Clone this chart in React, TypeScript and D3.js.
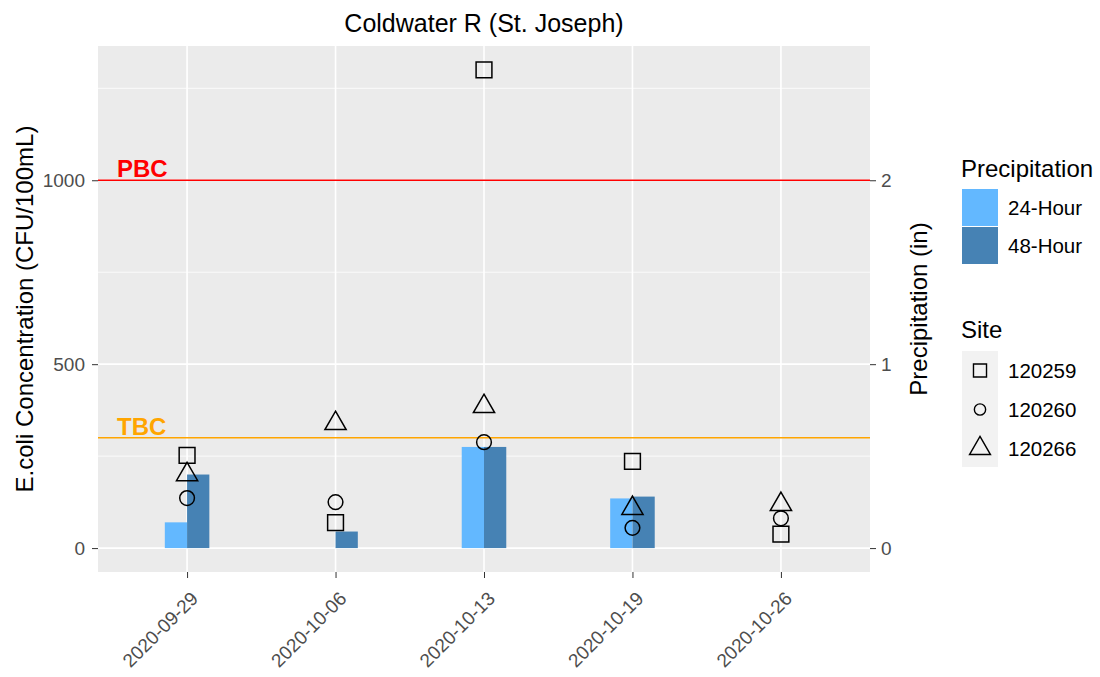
import { useRef, useEffect } from 'react';
import * as d3 from 'd3';

const dates = ['2020-09-29', '2020-10-06', '2020-10-13', '2020-10-19', '2020-10-26'];
const precip24 = [0.14, 0, 0.55, 0.27, 0];
const precip48 = [0.4, 0.09, 0.55, 0.28, 0];
const sites = ['120259', '120260', '120266'];
const site120259 = [252, 69, 1300, 236, 38];
const site120260 = [136, 125, 288, 55, 81];
const site120266 = [200, 339, 385, 108, 119];
const leftTicks = [0, 500, 1000];
const rightTicks = [0, 1, 2];
const thresholds = [
    { label: 'PBC', value: 1000, color: '#ff0000' },
    { label: 'TBC', value: 300, color: '#ffa500' },
];

export default function App() {
    const svgRef = useRef<SVGSVGElement>(null);

    useEffect(() => {
        if (!svgRef.current) return;
        const width = 1100;
        const height = 677;
        const panel = { left: 98, right: 870, top: 46, bottom: 572 };
        const font = '"Liberation Sans", Arial, sans-serif';
        const textGray = '#4d4d4d';

        const svg = d3.select(svgRef.current);
        svg.selectAll('*').remove();
        svg.attr('width', width).attr('height', height)
            .style('font-family', font);

        svg.append('rect').attr('width', width).attr('height', height).attr('fill', 'white');

        const x = d3.scalePoint<string>().domain(dates).range([panel.left, panel.right]).padding(0.6);
        const step = x.step();
        const barW = step * 0.15;
        const y = d3.scaleLinear().domain([-65, 1365]).range([panel.bottom, panel.top]);
        const yR = d3.scaleLinear().domain([-0.13, 2.73]).range([panel.bottom, panel.top]);

        // panel
        svg.append('rect')
            .attr('x', panel.left).attr('y', panel.top)
            .attr('width', panel.right - panel.left).attr('height', panel.bottom - panel.top)
            .attr('fill', '#ebebeb');

        const grid = svg.append('g');
        [250, 750, 1250].forEach(v => {
            grid.append('line').attr('x1', panel.left).attr('x2', panel.right)
                .attr('y1', y(v)).attr('y2', y(v)).attr('stroke', 'white').attr('stroke-width', 0.8);
        });
        leftTicks.forEach(v => {
            grid.append('line').attr('x1', panel.left).attr('x2', panel.right)
                .attr('y1', y(v)).attr('y2', y(v)).attr('stroke', 'white').attr('stroke-width', 1.6);
        });
        dates.forEach(d => {
            grid.append('line').attr('x1', x(d)!).attr('x2', x(d)!)
                .attr('y1', panel.top).attr('y2', panel.bottom).attr('stroke', 'white').attr('stroke-width', 1.6);
        });

        // bars
        const bars = svg.append('g');
        dates.forEach((d, i) => {
            const cx = x(d)!;
            if (precip24[i] > 0) {
                bars.append('rect').attr('x', cx - barW).attr('width', barW)
                    .attr('y', yR(precip24[i])).attr('height', yR(0) - yR(precip24[i]))
                    .attr('fill', '#63b8ff');
            }
            if (precip48[i] > 0) {
                bars.append('rect').attr('x', cx).attr('width', barW)
                    .attr('y', yR(precip48[i])).attr('height', yR(0) - yR(precip48[i]))
                    .attr('fill', '#4682b4');
            }
        });

        // threshold lines
        thresholds.forEach(t => {
            svg.append('line').attr('x1', panel.left).attr('x2', panel.right)
                .attr('y1', y(t.value)).attr('y2', y(t.value))
                .attr('stroke', t.color).attr('stroke-width', 1.4);
            svg.append('text').attr('x', 117).attr('y', y(t.value) - 3)
                .attr('font-size', 24).attr('font-weight', 700)
                .attr('fill', t.color).text(t.label);
        });

        // points
        const symbolTypes = [d3.symbolSquare, d3.symbolCircle, d3.symbolTriangle];
        const symbolSizes = [250, 170, 195];
        const siteValues = [site120259, site120260, site120266];
        const pts = svg.append('g');
        siteValues.forEach((vals, s) => {
            const sym = d3.symbol().type(symbolTypes[s]).size(symbolSizes[s]);
            vals.forEach((v, i) => {
                pts.append('path').attr('d', sym()!)
                    .attr('transform', `translate(${x(dates[i])},${y(v)})`)
                    .attr('fill', 'none').attr('stroke', 'black').attr('stroke-width', 1.5);
            });
        });

        // left axis
        const lAxis = svg.append('g').attr('transform', `translate(${panel.left},0)`)
            .call(d3.axisLeft(y).tickValues(leftTicks).tickFormat(d3.format('d')).tickSize(6).tickPadding(7));
        lAxis.select('.domain').remove();
        lAxis.selectAll('line').attr('stroke', '#333');
        lAxis.selectAll('text').attr('fill', textGray).attr('font-size', 19).attr('font-family', font);

        const rAxis = svg.append('g').attr('transform', `translate(${panel.right},0)`)
            .call(d3.axisRight(yR).tickValues(rightTicks).tickFormat(d3.format('d')).tickSize(6).tickPadding(5));
        rAxis.select('.domain').remove();
        rAxis.selectAll('line').attr('stroke', '#333');
        rAxis.selectAll('text').attr('fill', textGray).attr('font-size', 19).attr('font-family', font);

        const bAxis = svg.append('g').attr('transform', `translate(0,${panel.bottom})`)
            .call(d3.axisBottom(x).tickSize(6));
        bAxis.select('.domain').remove();
        bAxis.selectAll('line').attr('stroke', '#333');
        bAxis.selectAll('text')
            .attr('fill', textGray).attr('font-size', 19).attr('font-family', font)
            .attr('text-anchor', 'end')
            .attr('y', 0)
            .attr('dy', '0.35em')
            .attr('transform', 'translate(7,23) rotate(-45)');

        // titles
        svg.append('text').attr('x', (panel.left + panel.right) / 2).attr('y', 32)
            .attr('text-anchor', 'middle').attr('font-size', 25).attr('fill', 'black')
            .text('Coldwater R (St. Joseph)');
        svg.append('text')
            .attr('transform', `translate(33,${(panel.top + panel.bottom) / 2}) rotate(-90)`)
            .attr('text-anchor', 'middle').attr('font-size', 24).attr('fill', 'black')
            .text('E.coli Concentration (CFU/100mL)');
        svg.append('text')
            .attr('transform', `translate(927,${(panel.top + panel.bottom) / 2}) rotate(-90)`)
            .attr('text-anchor', 'middle').attr('font-size', 24).attr('fill', 'black')
            .text('Precipitation (in)');

        // legend: precipitation
        const lg = svg.append('g');
        lg.append('text').attr('x', 961).attr('y', 177).attr('font-size', 24).text('Precipitation');
        [['24-Hour', '#63b8ff'], ['48-Hour', '#4682b4']].forEach(([lab, col], i) => {
            const ky = 189 + i * 38;
            lg.append('rect').attr('x', 962).attr('y', ky).attr('width', 36).attr('height', 37).attr('fill', col);
            lg.append('text').attr('x', 1008).attr('y', ky + 26).attr('font-size', 20.5).text(lab);
        });

        // legend: site
        lg.append('text').attr('x', 961).attr('y', 338).attr('font-size', 24).text('Site');
        lg.append('rect').attr('x', 962).attr('y', 351).attr('width', 36).attr('height', 116).attr('fill', '#f2f2f2');
        const legSizes = [170, 100, 190];
        sites.forEach((s, i) => {
            const ky = 370.5 + i * 39;
            const sym = d3.symbol().type(symbolTypes[i]).size(legSizes[i]);
            lg.append('path').attr('d', sym()!).attr('transform', `translate(980,${ky})`)
                .attr('fill', 'none').attr('stroke', 'black').attr('stroke-width', 1.4);
            lg.append('text').attr('x', 1008).attr('y', ky + 7.5).attr('font-size', 20.5).text(s);
        });
    }, []);

    return <svg ref={svgRef} style={{ display: 'block', position: 'absolute', left: 0, top: 0 }} />;
}
